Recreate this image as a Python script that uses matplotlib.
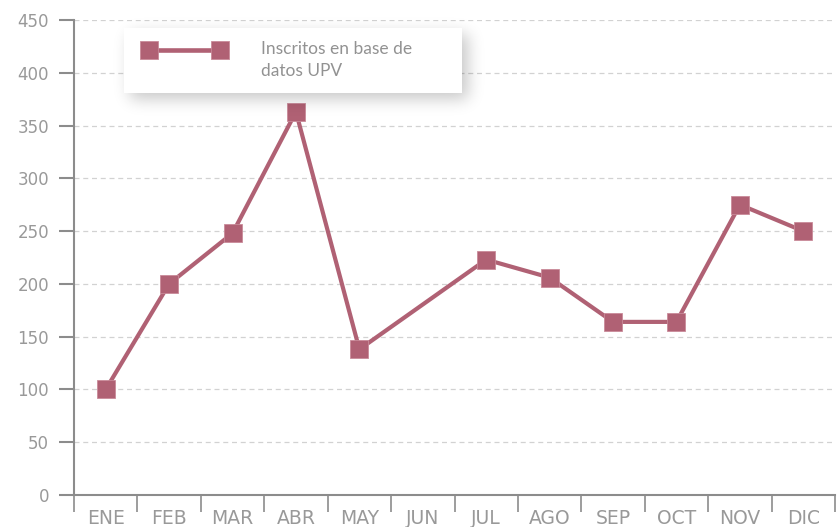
import numpy as np
import matplotlib
matplotlib.use('Agg')
import matplotlib.pyplot as plt
from matplotlib.patches import Rectangle
from matplotlib.legend_handler import HandlerLine2D

# datos
meses = ['ENE', 'FEB', 'MAR', 'ABR', 'MAY', 'JUN', 'JUL', 'AGO', 'SEP', 'OCT', 'NOV', 'DIC']
inscritos = [100, 200, 248, 363, 138, None, 223, 206, 164, 164, 275, 250]
yticks = [0, 50, 100, 150, 200, 250, 300, 350, 400, 450]
serie = 'Inscritos en base de\ndatos UPV'

color = '#b06174'
gris = '#8c8c8c'
texto = '#999999'

W, H = 838, 527


class HandlerArriba(HandlerLine2D):
    # sube el simbolo de la leyenda hasta la primera linea del texto
    def create_artists(self, legend, orig_handle, xdescent, ydescent, width, height, fontsize, trans):
        return super().create_artists(legend, orig_handle, xdescent, ydescent - 15,
                                      width, height, fontsize, trans)


fig = plt.figure(figsize=(W / 100, H / 100), dpi=100)
ax = fig.add_axes([74 / W, 32 / H, 761 / W, 475 / H])

x = np.arange(len(meses))
y = np.array([np.nan if v is None else v for v in inscritos], dtype=float)
ok = ~np.isnan(y)
linea, = ax.plot(x[ok], y[ok], color=color, lw=3, marker='s', ms=13,
                 mec='#c98a99', mew=0.6, label=serie, zorder=3)

ax.set_xlim(-0.5, len(meses) - 0.5)
ax.set_ylim(0, 450)
ax.set_yticks(yticks)
ax.yaxis.grid(True, ls=(0, (4, 3)), color='#d2d2d2', lw=0.9)
ax.set_axisbelow(True)

# ticks en los limites de cada mes, etiquetas en el centro
ax.set_xticks(np.arange(len(meses) + 1) - 0.5)
ax.set_xticklabels([])
ax.set_xticks(x, minor=True)
ax.set_xticklabels(meses, minor=True)
ax.tick_params(axis='x', which='major', length=12, width=1.2, color=gris, direction='out')
ax.tick_params(axis='x', which='minor', length=0, pad=10, labelsize=13.5, labelcolor=texto)
ax.tick_params(axis='y', length=11, width=1.5, color=gris, pad=7, labelsize=12, labelcolor=texto)
for lab in ax.get_xticklabels(minor=True):
    lab.set_family(['Liberation Sans Narrow', 'DejaVu Sans'])
for lab in ax.get_yticklabels():
    lab.set_family(['DejaVu Sans'])

for s in ['top', 'right']:
    ax.spines[s].set_visible(False)
for s in ['left', 'bottom']:
    ax.spines[s].set_color(gris)
    ax.spines[s].set_linewidth(1.5)

# caja de la leyenda con sombra difusa
bx, by, bw, bh = 124, 28, 338, 65  # px, desde arriba
m = 40
sombra = np.zeros((bh + 2 * m, bw + 2 * m))
sombra[m + 6:m + 6 + bh, m + 6:m + 6 + bw] = 1.0
k = np.exp(-0.5 * (np.arange(-24, 25) / 8.0) ** 2)
k /= k.sum()
sombra = np.apply_along_axis(lambda r: np.convolve(r, k, mode='same'), 1, sombra)
sombra = np.apply_along_axis(lambda c: np.convolve(c, k, mode='same'), 0, sombra)
rgba = np.zeros(sombra.shape + (4,))
rgba[..., 3] = 0.22 * sombra
fig.figimage(rgba, xo=bx - m, yo=H - by - bh - m, origin='upper', zorder=5)
fig.patches.append(Rectangle((bx / W, 1 - (by + bh) / H), bw / W, bh / H,
                             transform=fig.transFigure, fc='white', ec='none', zorder=6))

leg = fig.legend(handles=[linea], loc='upper left', bbox_to_anchor=(140 / W, 1 - 32 / H),
                 frameon=False, borderpad=0, numpoints=2, handlelength=4.1, handletextpad=2.35,
                 handler_map={linea: HandlerArriba(marker_pad=0)},
                 prop={'family': ['Lato', 'DejaVu Sans'], 'size': 12.5})
leg.set_zorder(7)
leg.get_lines()[0].set_linewidth(3.3)
for t in leg.get_texts():
    t.set_color('#929292')
    t.set_linespacing(1.5)

fig.savefig('out.png', dpi=100)
